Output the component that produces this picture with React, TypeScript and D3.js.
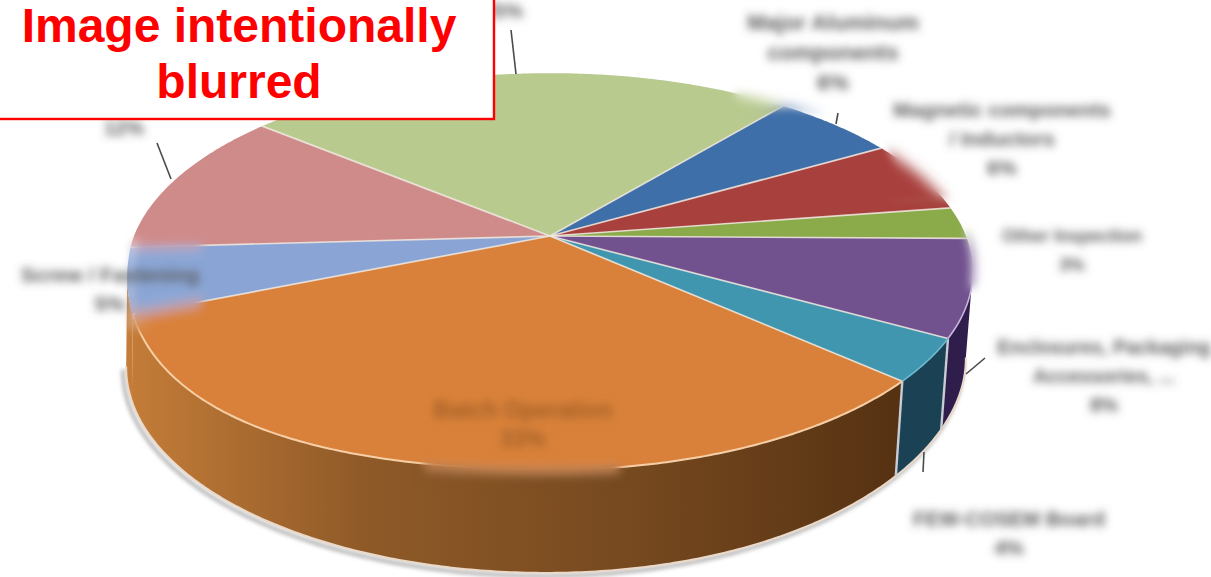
import React from "react";
import * as d3 from "d3";

// Share of each category, in percent, clockwise from the top-right slice.
const categories = [
  "Major Aluminum components",
  "Magnetic components / Inductors",
  "Other Inspection",
  "Enclosures, Packaging Accessories, ...",
  "FEW-COSEM Board",
  "Batch Operation",
  "Screw / Fastening",
  "Others",
  "Assembly Labor",
];
const shares = [5.7, 5.9, 2.6, 7.9, 3.5, 33.0, 4.6, 11.8, 25.0];
const topColors = ["#3f6fa9", "#a8403d", "#8bab4b", "#71528f", "#3f96ae", "#d9813a", "#8aa5d5", "#cf8b8a", "#b9ca8f"];
const wallColors = ["#254264", "#642523", "#526629", "#2f1d4c", "#1a4254", "url(#orangeWall)", "url(#orangeWall)", "#7b5252", "#6e7955"];

const START_DEG = 39.6;
const W = 1211;
const H = 577;

// Perspective disc: apex of the pie and the resulting rim ellipse.
const apex = { x: 550, y: 236 };
const tilt = 0.179;
const radiusX = 416;
const radiusY = 192;
const rim = { cx: 552, cy: 271, rx: 423, ry: 198 };
const base = { cx: 548, cy: 367, rx: 420, ry: 205 };

function rimPoint(theta: number): [number, number] {
  const u = Math.sin(theta);
  const v = -Math.cos(theta);
  const d = 1 - tilt * v;
  return [apex.x + (radiusX * u) / d, apex.y + (radiusY * v) / d];
}

// The lower-left of the disc sags a little below a true ellipse.
function project(theta: number): [number, number] {
  const [x, y] = rimPoint(theta);
  const v = -Math.cos(theta);
  const t = Math.max(0, (rim.cx - x) / rim.rx);
  return [x, y + 32 * t * t * Math.max(0, v)];
}

function baseOf(theta: number): [number, number] {
  const p = rimPoint(theta);
  const ex = (p[0] - rim.cx) / rim.rx;
  const ey = (p[1] - rim.cy) / rim.ry;
  return [
    base.cx + base.rx * ex,
    base.cy + base.ry * ey - 9 * Math.pow(Math.max(0, ex), 3),
  ];
}

function sample(a0: number, a1: number): number[] {
  const n = Math.max(2, Math.ceil(Math.abs(a1 - a0) / 0.01));
  return d3.range(n + 1).map((i) => a0 + ((a1 - a0) * i) / n);
}

const pieLayout = d3
  .pie<number>()
  .sort(null)
  .value((d) => d)
  .startAngle((START_DEG * Math.PI) / 180)
  .endAngle((START_DEG * Math.PI) / 180 + 2 * Math.PI);

const slices = pieLayout(shares);
const line = d3.line<[number, number]>();

function topPath(a0: number, a1: number): string {
  const pts = sample(a0, a1).map(project);
  return (line([[apex.x, apex.y], ...pts]) ?? "") + "Z";
}

// Rim angles on the visible front of the pie, where the rim meets its widest
// points on the right and on the left.
const frontStart = (100 * Math.PI) / 180;
const frontEnd = (260 * Math.PI) / 180;

function frontAngles(a0: number, a1: number): number[] {
  const lo = Math.max(a0, frontStart);
  const hi = Math.min(a1, frontEnd);
  return hi > lo ? sample(lo, hi) : [];
}

function wallPath(a0: number, a1: number): string | null {
  const as = frontAngles(a0, a1);
  if (as.length < 2) return null;
  return (line([...as.map(project), ...as.map(baseOf).reverse()]) ?? "") + "Z";
}

type LabelDef = { lines: string[]; x: number; y: number; step: number; size: number; color?: string };

const pct = (i: number) => `${Math.round(shares[i])}%`;

const labels: LabelDef[] = [
  { lines: ["Major Aluminum", "components", pct(0)], x: 833, y: 30, step: 30, size: 22 },
  { lines: ["Magnetic components", "/ Inductors", pct(1)], x: 1002, y: 117, step: 29, size: 20.6 },
  { lines: ["Other Inspection", pct(2)], x: 1072, y: 242, step: 29, size: 17.6 },
  { lines: ["Enclosures, Packaging", "Accessories, ...", pct(3)], x: 1104, y: 354, step: 29, size: 19.5 },
  { lines: ["FEW-COSEM Board", pct(4)], x: 1009, y: 526, step: 29, size: 20.5 },
  { lines: ["Batch Operation", pct(5)], x: 523, y: 418, step: 29, size: 23, color: "#a05f28" },
  { lines: ["Screw / Fastening", pct(6)], x: 110, y: 282, step: 29, size: 21 },
  { lines: [pct(7)], x: 124, y: 135, step: 29, size: 20 },
  { lines: [pct(8)], x: 503, y: 18, step: 29, size: 20 },
];

// Thin leaders from the rim out to the outside labels.
const leaders: [number, number, number, number][] = [
  [511, 30, 516, 74],
  [838, 113, 836, 124],
  [985, 358, 966, 374],
  [924, 452, 923, 472],
  [157, 143, 171, 179],
];

// Softened areas of the pie.
const softPatches = [
  { x: 130, y: 240, w: 72, h: 90 },
  { x: 424, y: 460, w: 196, h: 22 },
  { x: 890, y: 140, w: 64, h: 58 },
  { x: 966, y: 228, w: 18, h: 60 },
  { x: 735, y: 88, w: 90, h: 22 },
];

function PieBody() {
  const front = sample(frontStart, frontEnd);
  return (
    <g>
      {/* sides first, then the top surface over them */}
      {slices.map((s, i) => {
        const d = wallPath(s.startAngle, s.endAngle);
        return d ? <path key={i} d={d} fill={wallColors[i]} /> : null;
      })}
      <path d={line(front.map(baseOf)) ?? ""} fill="none" stroke="#ead8c8" strokeWidth={2} />
      {slices.slice(3, 5).map((s, i) => {
        const a = project(s.endAngle);
        const b = baseOf(s.endAngle);
        return <line key={i} x1={a[0]} y1={a[1]} x2={b[0]} y2={b[1]} stroke="#c9ccd2" strokeWidth={2.4} />;
      })}
      {slices.map((s, i) => (
        <path key={i} d={topPath(s.startAngle, s.endAngle)} fill={topColors[i]} />
      ))}
      {slices.map((s, i) => {
        const p = project(s.startAngle);
        return (
          <line key={i} x1={apex.x} y1={apex.y} x2={p[0]} y2={p[1]} stroke="#efe6de" strokeWidth={1.7} strokeOpacity={0.85} />
        );
      })}
      <path d={line(frontAngles(slices[3].startAngle, slices[3].endAngle).map(project)) ?? ""} fill="none" stroke="#c8b6de" strokeWidth={1.6} />
      <path d={line(frontAngles(slices[4].startAngle, slices[4].endAngle).map(project)) ?? ""} fill="none" stroke="#6db9cf" strokeWidth={1.6} />
      <path d={line(frontAngles(slices[5].startAngle, slices[5].endAngle).map(project)) ?? ""} fill="none" stroke="#f7cfa6" strokeWidth={2} />
    </g>
  );
}

export default function App() {
  const front = sample(frontStart, frontEnd);
  return (
    <svg
      width={W}
      height={H}
      viewBox={`0 0 ${W} ${H}`}
      style={{ position: "absolute", left: 0, top: 0, display: "block", background: "#fff" }}
    >
      <defs>
        <linearGradient id="orangeWall" gradientUnits="userSpaceOnUse" x1={130} y1={0} x2={905} y2={0}>
          <stop offset="0" stopColor="#c47c38" />
          <stop offset="0.3" stopColor="#8f5a28" />
          <stop offset="0.65" stopColor="#76491f" />
          <stop offset="1" stopColor="#553112" />
        </linearGradient>
        <filter id="textBlur" x="-30%" y="-100%" width="160%" height="300%">
          <feGaussianBlur stdDeviation="4.2" />
        </filter>
        <filter id="patchBlur" x="-5%" y="-5%" width="110%" height="110%">
          <feGaussianBlur stdDeviation="7" />
        </filter>
        <filter id="edgeBlur" x="-40%" y="-40%" width="180%" height="180%">
          <feGaussianBlur stdDeviation="5" />
        </filter>
        <filter id="shadowBlur" x="-5%" y="-5%" width="110%" height="110%">
          <feGaussianBlur stdDeviation="2" />
        </filter>
        <g id="pieBody">
          <PieBody />
        </g>
        {softPatches.map((p, i) => (
          <mask key={i} id={`soft${i}`} maskUnits="userSpaceOnUse" x={0} y={0} width={W} height={H}>
            <rect x={p.x} y={p.y} width={p.w} height={p.h} fill="#fff" filter="url(#edgeBlur)" />
          </mask>
        ))}
      </defs>

      <rect x={0} y={0} width={W} height={H} fill="#fff" />

      {/* soft shadow along the base of the pie */}
      <path
        d={line(front.map(baseOf)) ?? ""}
        transform="translate(-3,3)"
        fill="none"
        stroke="#9b9b9b"
        strokeWidth={3}
        filter="url(#shadowBlur)"
      />

      <use href="#pieBody" />

      {leaders.map((l, i) => (
        <line key={i} x1={l[0]} y1={l[1]} x2={l[2]} y2={l[3]} stroke="#4a4a4a" strokeWidth={1.6} />
      ))}

      {softPatches.map((_, i) => (
        <g key={i} mask={`url(#soft${i})`}>
          <rect x={0} y={0} width={W} height={H} fill="#fff" />
          <use href="#pieBody" filter="url(#patchBlur)" />
        </g>
      ))}

      <g fontFamily="'Liberation Sans', sans-serif" textAnchor="middle" filter="url(#textBlur)">
        {labels.map((lab, i) => (
          <text key={i} x={lab.x} y={lab.y} fontSize={lab.size} fontWeight={700} fill={lab.color ?? "#5a5a5a"}>
            {lab.lines.map((t, j) => (
              <tspan key={j} x={lab.x} y={lab.y + j * lab.step}>
                {t}
              </tspan>
            ))}
          </text>
        ))}
      </g>

      <rect x={-4} y={-4} width={498} height={123} fill="#fff" stroke="#ff0000" strokeWidth={2.4} />
      <g fontFamily="'Liberation Sans', sans-serif" fontWeight={700} fontSize={48} fill="#ff0000" textAnchor="middle">
        <text x={239} y={42}>Image intentionally</text>
        <text x={239} y={98}>blurred</text>
      </g>
    </svg>
  );
}
